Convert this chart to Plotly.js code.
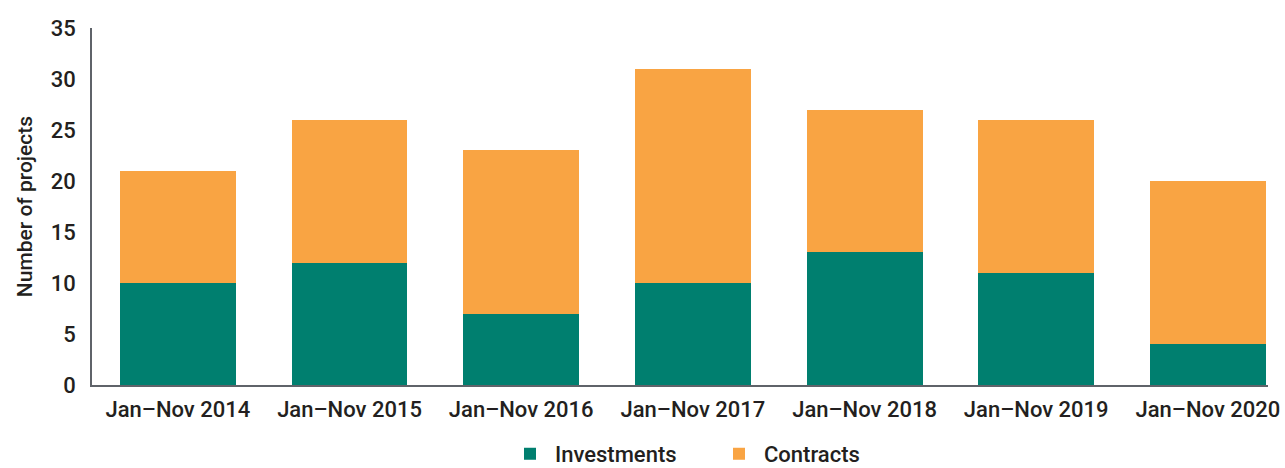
<!DOCTYPE html>
<html><head><meta charset="utf-8">
<script src="https://cdn.plot.ly/plotly-3.0.1.min.js"></script>
<style>body{margin:0;background:#fff}#c{width:1285px;height:468px}</style>
</head><body><div id="c"></div>
<script>
const categories = ["Jan–Nov 2014","Jan–Nov 2015","Jan–Nov 2016","Jan–Nov 2017","Jan–Nov 2018","Jan–Nov 2019","Jan–Nov 2020"];
const investments = [10, 12, 7, 10, 13, 11, 4];
const contracts = [11, 14, 16, 21, 14, 15, 16];
const yTicks = [0,5,10,15,20,25,30,35];

const font = "Roboto, sans-serif";
const data = [
  {type:"bar", name:"Investments", x:categories, y:investments, marker:{color:"#007F6F", line:{width:0}}, width:0.675},
  {type:"bar", name:"Contracts", x:categories, y:contracts, marker:{color:"#F9A443", line:{width:0}}, width:0.675}
];
const layout = {
  width:1285, height:468, barmode:"stack",
  margin:{l:92, r:17, t:28, b:83, autoexpand:false},
  paper_bgcolor:"#fff", plot_bgcolor:"#fff",
  font:{family:font, size:21, color:"#231f20", weight:500},
  xaxis:{type:"category", range:[-0.5, 6.35], showline:true, linecolor:"#5f6369", linewidth:1.5, ticks:"", showgrid:false, tickfont:{size:22, weight:500}, ticklabelstandoff:4, automargin:false},
  yaxis:{range:[0,35], tickvals:yTicks, showline:true, linecolor:"#5f6369", linewidth:1.5, ticks:"", showgrid:false, zeroline:false, tickfont:{size:22, weight:500}, ticklabelstandoff:10, automargin:false,
    title:{text:"Number of projects", font:{size:21, weight:500}, standoff:12}},
  showlegend:true,
  legend:{orientation:"h", x:0.393, xanchor:"left", xref:"container", yref:"container", y:0.03, yanchor:"middle", font:{size:22, weight:500}, itemwidth:40, entrywidth:154, entrywidthmode:"pixels", traceorder:"normal"},
  bargap:0
};
Plotly.newPlot("c", data, layout, {displayModeBar:false});
</script></body></html>
